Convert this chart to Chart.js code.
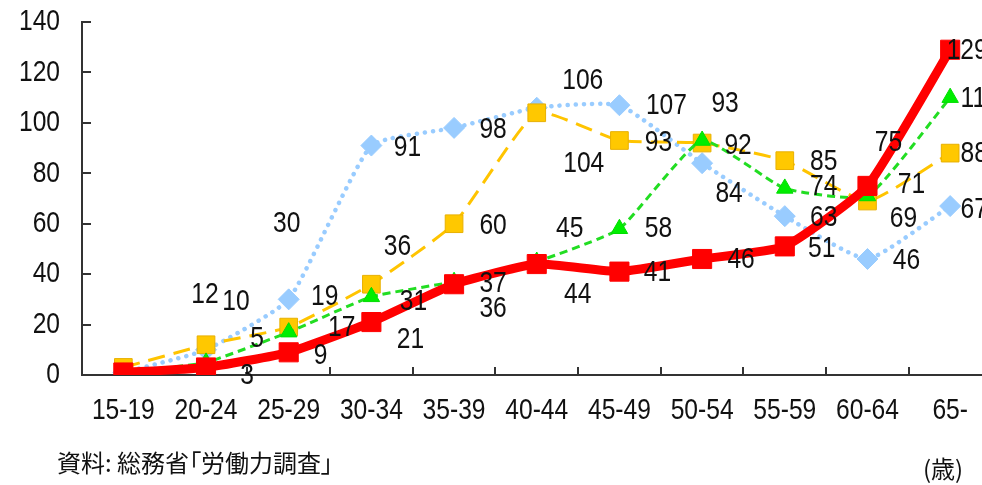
<!DOCTYPE html>
<html>
<head>
<meta charset="utf-8">
<script src="https://cdn.jsdelivr.net/npm/chart.js@4.4.1/dist/chart.umd.min.js"></script>
<style>
  html, body { margin: 0; padding: 0; background: #fff; overflow: hidden; }
  #wrap { position: relative; width: 1006px; height: 485px; }
  #c { position: absolute; left: 0; top: 0; }
  .note { position: absolute; font-family: "Noto Sans CJK JP", sans-serif; font-size: 24px; color: #111; line-height: 1; white-space: nowrap; font-feature-settings: "palt"; }
</style>
</head>
<body>
<div id="wrap">
  <canvas id="c" width="1006" height="485"></canvas>
  <div class="note" id="src" style="left:57px; top:450px;">資料: 総務省「労働力調査」</div>
  <div class="note" id="unit" style="left:923px; top:456px;">(歳)</div>
</div>
<script>
// ---- data ----
const categories = ["15-19","20-24","25-29","30-34","35-39","40-44","45-49","50-54","55-59","60-64","65-"];
const seriesRed    = [1, 3, 9, 21, 36, 44, 41, 46, 51, 75, 129];
const seriesGreen  = [1, 5, 17, 31, 37, 45, 58, 93, 74, 71, 110];
const seriesYellow = [3, 12, 19, 36, 60, 104, 93, 92, 85, 69, 88];
const seriesBlue   = [1, 10, 30, 91, 98, 106, 107, 84, 63, 46, 67];
const yTicks = [0, 20, 40, 60, 80, 100, 120, 140];

// label placement offsets (pixels from point centre); null = no label
const redLabelOffsets    = [null,[41,8],[32,3],[39,18],[39,25],[41,31],[38,1],[39,1],[37,2],[21,-43],[17,1]];
const greenLabelOffsets  = [null,[51,-24],[53,-4],[42,5],[39,2],[33,-33],[39,0],[23,-37],[39,-2],[44,-11],[30,1]];
const yellowLabelOffsets = [null,[-1,-50],[36,-30],[26,-37],[39,2],[47,51],[39,2],[36,3],[39,1],[36,18],[24,1]];
const blueLabelOffsets   = [null,[30,-48],[-2,-76],[36,2],[39,2],[46,-27],[47,1],[27,31],[39,2],[39,2],[24,4]];

const FONT = '"Liberation Sans", Arial, sans-serif';
const NARROW = 0.82; // horizontal squeeze to mimic a narrow typeface

// squeeze axis tick labels horizontally (Chart.js rotates ctx at each label origin)
const narrowTicks = {
  id: 'narrowTicks',
  beforeDraw(chart) {
    const ctx = chart.ctx;
    if (ctx.__origRotate) return;
    const orig = ctx.rotate;
    ctx.__origRotate = orig;
    ctx.rotate = function (a) { orig.call(this, a); this.scale(NARROW, 1); };
  },
  beforeDatasetsDraw(chart) {
    const ctx = chart.ctx;
    if (ctx.__origRotate) { ctx.rotate = ctx.__origRotate; delete ctx.__origRotate; }
  }
};

const inwardTicks = {
  id: 'inwardTicks',
  beforeDatasetsDraw(chart) {
    const ctx = chart.ctx, x = chart.scales.x, y = chart.scales.y;
    const area = chart.chartArea;
    ctx.save();
    ctx.strokeStyle = '#333';
    ctx.lineWidth = 2;
    ctx.beginPath();
    y.ticks.forEach((t) => {
      const py = Math.round(y.getPixelForValue(t.value));
      ctx.moveTo(area.left, py); ctx.lineTo(area.left + 9, py);
    });
    const step = x.getPixelForValue(1) - x.getPixelForValue(0);
    for (let i = 0; i < categories.length; i++) {
      const px = Math.round(x.getPixelForValue(i) + step / 2);
      ctx.moveTo(px, area.bottom); ctx.lineTo(px, area.bottom - 8);
    }
    ctx.stroke();
    ctx.restore();
  }
};

const pointLabels = {
  id: 'pointLabels',
  afterDatasetsDraw(chart) {
    const ctx = chart.ctx;
    ctx.save();
    ctx.font = '30px ' + FONT;
    ctx.fillStyle = '#111';
    ctx.textAlign = 'center';
    ctx.textBaseline = 'middle';
    chart.data.datasets.forEach((ds, di) => {
      const meta = chart.getDatasetMeta(di);
      meta.data.forEach((pt, i) => {
        const off = ds.labelOffsets[i];
        if (!off) return;
        ctx.save();
        ctx.translate(pt.x + off[0], pt.y + off[1]);
        ctx.scale(NARROW, 1);
        ctx.fillText(String(ds.data[i]), 0, 0);
        ctx.restore();
      });
    });
    ctx.restore();
  }
};

new Chart(document.getElementById('c'), {
  type: 'line',
  data: {
    labels: categories,
    datasets: [
      {
        data: seriesRed, labelOffsets: redLabelOffsets,
        borderColor: '#FF0000', borderWidth: 9, tension: 0.15,
        pointStyle: 'rect', pointRadius: 13.5, pointBackgroundColor: '#FF0000',
        pointBorderColor: '#FF0000', pointBorderWidth: 1
      },
      {
        data: seriesGreen, labelOffsets: greenLabelOffsets,
        borderColor: '#22DD22', borderWidth: 3, borderDash: [8, 5], tension: 0.15,
        pointStyle: 'triangle', pointRadius: 9.5, pointBackgroundColor: '#00EE00',
        pointBorderColor: '#00DD00', pointBorderWidth: 1
      },
      {
        data: seriesYellow, labelOffsets: yellowLabelOffsets,
        borderColor: '#FFC400', borderWidth: 3, borderDash: [17, 9], tension: 0.15,
        pointStyle: 'rect', pointRadius: 12.5, pointBackgroundColor: '#FFC800',
        pointBorderColor: '#E8B000', pointBorderWidth: 1
      },
      {
        data: seriesBlue, labelOffsets: blueLabelOffsets,
        borderColor: '#99CCFF', borderWidth: 4.5, borderDash: [0.1, 8], borderCapStyle: 'round', tension: 0.15,
        pointStyle: 'rectRot', pointRadius: 10.5, pointBackgroundColor: '#99CCFF',
        pointBorderColor: '#99CCFF', pointBorderWidth: 1
      }
    ]
  },
  options: {
    responsive: false,
    animation: false,
    devicePixelRatio: 1,
    layout: { padding: { top: 22, right: 4, left: 0, bottom: 0 } },
    plugins: { legend: { display: false }, tooltip: { enabled: false } },
    scales: {
      x: {
        type: 'category',
        offset: true,
        grid: { display: false, drawTicks: false },
        border: { display: true, color: '#333', width: 2 },
        ticks: { color: '#111', font: { family: FONT, size: 30 }, padding: 18, maxRotation: 0, autoSkip: false },
        afterFit(s) { s.height = 110; s.paddingLeft = 0; s.paddingRight = 0; }
      },
      y: {
        min: 0, max: 140,
        afterBuildTicks(s) { s.ticks = yTicks.map(v => ({ value: v })); },
        grid: { display: false, drawTicks: false },
        border: { display: true, color: '#333', width: 2 },
        ticks: { color: '#111', font: { family: FONT, size: 30 }, padding: 22 },
        afterFit(s) { s.width = 82; s.paddingTop = 0; s.paddingBottom = 0; }
      }
    }
  },
  plugins: [narrowTicks, inwardTicks, pointLabels]
});
</script>
</body>
</html>
